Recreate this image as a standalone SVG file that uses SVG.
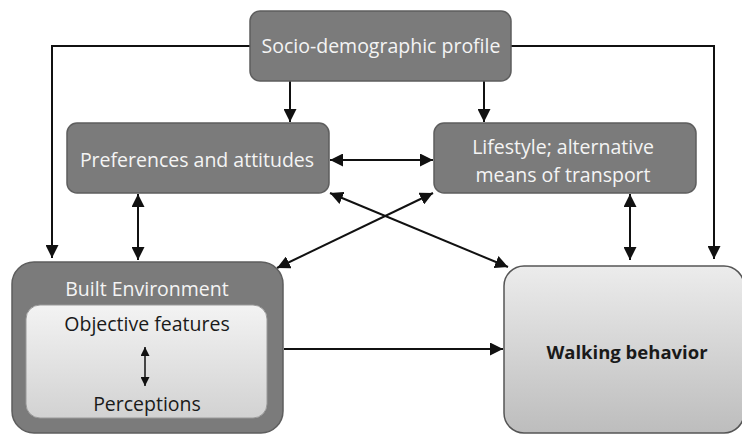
<svg xmlns="http://www.w3.org/2000/svg" width="742" height="434" viewBox="0 0 742 434">
<style>
.dark{fill:#7b7b7b;stroke:#5e5e5e;stroke-width:1.5}
.lt{font-family:"Open Sans","Liberation Sans",sans-serif;font-size:19.5px;fill:#f4f4f4;text-anchor:middle}
.dt{font-family:"Open Sans","Liberation Sans",sans-serif;font-size:19.5px;fill:#1a1a1a;text-anchor:middle}
.c{fill:none;stroke:#111;stroke-width:2}
</style>
<defs>
<marker id="ah" viewBox="0 0 10 10" refX="10" refY="5" markerWidth="6.5" markerHeight="6.5" markerUnits="strokeWidth" orient="auto-start-reverse">
<path d="M0,0 L10,5 L0,10 z" fill="#111"/>
</marker>
<marker id="sm" viewBox="0 0 10 10" refX="10" refY="5" markerWidth="6" markerHeight="6" markerUnits="strokeWidth" orient="auto-start-reverse">
<path d="M0,0 L10,5 L0,10 z" fill="#111"/>
</marker>
<linearGradient id="gw" x1="0" y1="0" x2="0" y2="1">
<stop offset="0" stop-color="#ececec"/>
<stop offset="1" stop-color="#bdbdbd"/>
</linearGradient>
<linearGradient id="gi" x1="0" y1="0" x2="0" y2="1">
<stop offset="0" stop-color="#f3f3f3"/>
<stop offset="1" stop-color="#d2d2d2"/>
</linearGradient>
</defs>
<rect width="742" height="434" fill="#ffffff"/>

<g id="connectors">
<polyline class="c" points="250,46 52,46 52,258" marker-end="url(#ah)"/>
<polyline class="c" points="511,46 714,46 714,259" marker-end="url(#ah)"/>
<line class="c" x1="290" y1="81" x2="290" y2="122" marker-end="url(#ah)"/>
<line class="c" x1="484" y1="81" x2="484" y2="122" marker-end="url(#ah)"/>
<line class="c" x1="330" y1="160" x2="433" y2="160" marker-start="url(#ah)" marker-end="url(#ah)"/>
<line class="c" x1="330" y1="193" x2="508" y2="267" marker-start="url(#ah)" marker-end="url(#ah)"/>
<line class="c" x1="433" y1="193" x2="277" y2="268" marker-start="url(#ah)" marker-end="url(#ah)"/>
<line class="c" x1="138" y1="194" x2="138" y2="260" marker-start="url(#ah)" marker-end="url(#ah)"/>
<line class="c" x1="630" y1="194" x2="630" y2="260" marker-start="url(#ah)" marker-end="url(#ah)"/>
<line class="c" x1="284" y1="349" x2="503" y2="349" marker-end="url(#ah)"/>
</g>

<g id="socio">
<rect class="dark" x="250" y="11" width="261" height="70" rx="10"/>
<text class="lt" x="381" y="53">Socio-demographic profile</text>
</g>

<g id="preferences">
<rect class="dark" x="67" y="123" width="262" height="70" rx="10"/>
<text class="lt" x="197" y="167">Preferences and attitudes</text>
</g>

<g id="lifestyle">
<rect class="dark" x="434" y="123" width="262" height="70" rx="10"/>
<text class="lt" x="563" y="154">Lifestyle; alternative</text>
<text class="lt" x="563" y="182">means of transport</text>
</g>

<g id="built-environment">
<rect x="12" y="262" width="271" height="171" rx="22" fill="#7b7b7b" stroke="#5e5e5e" stroke-width="1.5"/>
<text class="lt" x="147" y="296">Built Environment</text>
<rect x="26" y="305" width="241" height="113" rx="14" fill="url(#gi)" stroke="#9a9a9a" stroke-width="1"/>
<text class="dt" x="147" y="331">Objective features</text>
<line x1="145" y1="347" x2="145" y2="386" stroke="#111" stroke-width="1.5" marker-start="url(#sm)" marker-end="url(#sm)"/>
<text class="dt" x="147" y="411">Perceptions</text>
</g>

<g id="walking">
<rect x="504" y="266" width="240" height="167" rx="20" fill="url(#gw)" stroke="#555" stroke-width="1.5"/>
<text x="627" y="359" font-family="'Open Sans','Liberation Sans',sans-serif" font-size="18.5" font-weight="bold" fill="#1a1a1a" text-anchor="middle">Walking behavior</text>
</g>
</svg>
